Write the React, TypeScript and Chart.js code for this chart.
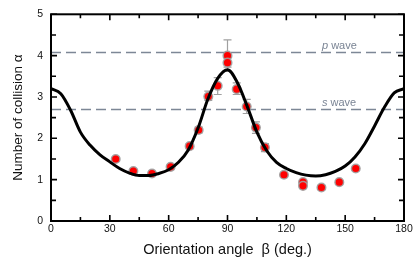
import React, { useEffect, useRef } from "react";
import { Chart, registerables } from "chart.js";

Chart.register(...registerables);

// Measured points
const pointAngles = [33, 42, 51.5, 61, 70.7, 75.3, 80.2, 85, 90, 90, 94.7, 99.8, 104.5, 109.1, 118.8, 128.5, 128.5, 137.9, 147, 155.4];
const pointValues = [1.5, 1.21, 1.15, 1.31, 1.81, 2.2, 3.01, 3.27, 4.0, 3.83, 3.19, 2.77, 2.26, 1.78, 1.12, 0.94, 0.85, 0.81, 0.94, 1.27];
const errLow = [1.45, 1.16, 1.1, 1.26, 1.75, 2.13, 2.92, 3.06, 3.62, 3.72, 3.06, 2.6, 2.12, 1.68, 1.07, 0.89, 0.8, 0.76, 0.9, 1.22];
const errHigh = [1.55, 1.26, 1.2, 1.36, 1.87, 2.27, 3.14, 3.47, 4.38, 3.95, 3.34, 2.94, 2.4, 1.87, 1.17, 0.99, 0.9, 0.86, 0.98, 1.32];

// Fitted curve
const curveAngles = [0, 5, 10, 15, 20, 25, 30, 35, 40, 45, 50, 55, 60, 65, 70, 75, 80, 85, 90, 95, 100, 105, 110, 115, 120, 125, 130, 135, 140, 145, 150, 155, 160, 165, 170, 175, 180];
const curveValues = [3.2, 3.08, 2.68, 2.15, 1.83, 1.6, 1.43, 1.27, 1.16, 1.1, 1.1, 1.15, 1.24, 1.42, 1.72, 2.25, 2.95, 3.45, 3.66, 3.35, 2.78, 2.15, 1.7, 1.42, 1.27, 1.17, 1.11, 1.09, 1.12, 1.2, 1.33, 1.55, 1.87, 2.3, 2.75, 3.1, 3.2];

// Reference levels
const refLevels = [4.1, 2.7];
const refLabelItalic = ["p", "s"];
const refLabelRest = [" wave", " wave"];

// Axis ticks
const xMajorTicks = [0, 30, 60, 90, 120, 150, 180];
const xMinorTicks = [15, 45, 75, 105, 135, 165];
const yMajorTicks = [0, 1, 2, 3, 4, 5];
const yMinorTicks = [0.5, 1.5, 2.5, 3.5, 4.5];

const FONT = "'Liberation Sans', Arial, Helvetica, sans-serif";

const framePlugin = {
  id: "framePlugin",
  beforeDatasetsDraw(chart: any) {
    const { ctx, chartArea: a, scales } = chart;
    const y = scales.y;
    ctx.save();
    ctx.strokeStyle = "#7d8796";
    ctx.lineWidth = 1.5;
    ctx.setLineDash([10, 5]);
    refLevels.forEach((lv, i) => {
      const py = Math.round(y.getPixelForValue(lv)) + 0.5;
      ctx.beginPath();
      ctx.moveTo(a.left, py);
      ctx.lineTo(a.right, py);
      ctx.stroke();
      // label
      ctx.setLineDash([]);
      ctx.fillStyle = "#7a8494";
      ctx.textBaseline = "alphabetic";
      ctx.textAlign = "left";
      const lx = 322;
      const ly = py - 4;
      ctx.font = `italic 11px ${FONT}`;
      ctx.fillText(refLabelItalic[i], lx, ly);
      const w = ctx.measureText(refLabelItalic[i]).width;
      ctx.font = `11px ${FONT}`;
      ctx.fillText(refLabelRest[i], lx + w, ly);
      ctx.setLineDash([10, 5]);
    });
    ctx.restore();
  },
  beforeDatasetDraw(chart: any, args: any) {
    if (args.index !== 1) return;
    const { ctx, scales } = chart;
    ctx.save();
    ctx.strokeStyle = "#a0a0a0";
    ctx.lineWidth = 1.2;
    pointAngles.forEach((ang, i) => {
      const px = scales.x.getPixelForValue(ang);
      const y1 = scales.y.getPixelForValue(errLow[i]);
      const y2 = scales.y.getPixelForValue(errHigh[i]);
      ctx.beginPath();
      ctx.moveTo(px, y1);
      ctx.lineTo(px, y2);
      ctx.moveTo(px - 4, y1);
      ctx.lineTo(px + 4, y1);
      ctx.moveTo(px - 4, y2);
      ctx.lineTo(px + 4, y2);
      ctx.stroke();
    });
    ctx.restore();
  },
  afterDatasetsDraw(chart: any) {
    const { ctx, chartArea: a, scales } = chart;
    const x = scales.x;
    const y = scales.y;
    ctx.save();
    ctx.strokeStyle = "#000";
    ctx.lineWidth = 1.6;
    const drawX = (v: number, len: number) => {
      const px = x.getPixelForValue(v);
      ctx.beginPath();
      ctx.moveTo(px, a.bottom);
      ctx.lineTo(px, a.bottom - len);
      ctx.moveTo(px, a.top);
      ctx.lineTo(px, a.top + len);
      ctx.stroke();
    };
    const drawY = (v: number, len: number) => {
      const py = y.getPixelForValue(v);
      ctx.beginPath();
      ctx.moveTo(a.left, py);
      ctx.lineTo(a.left + len, py);
      ctx.moveTo(a.right, py);
      ctx.lineTo(a.right - len, py);
      ctx.stroke();
    };
    xMajorTicks.forEach((v) => drawX(v, 6));
    xMinorTicks.forEach((v) => drawX(v, 4));
    yMajorTicks.forEach((v) => drawY(v, 6));
    yMinorTicks.forEach((v) => drawY(v, 5));
    ctx.lineWidth = 2;
    ctx.strokeRect(a.left, a.top, a.right - a.left, a.bottom - a.top);
    ctx.restore();
  },
};

export default function App() {
  const ref = useRef<HTMLCanvasElement | null>(null);
  useEffect(() => {
    if (!ref.current) return;
    const chart = new Chart(ref.current, {
      type: "scatter",
      data: {
        datasets: [
          {
            type: "line",
            data: curveAngles.map((a, i) => ({ x: a, y: curveValues[i] })),
            borderColor: "#000",
            borderWidth: 3,
            pointRadius: 0,
            cubicInterpolationMode: "monotone",
            fill: false,
          } as any,
          {
            type: "scatter",
            data: pointAngles.map((a, i) => ({ x: a, y: pointValues[i] })),
            backgroundColor: "#ff0000",
            borderColor: "rgba(160,160,160,0.9)",
            borderWidth: 1.5,
            pointRadius: 4.3,
          },
        ],
      },
      options: {
        animation: false,
        responsive: false,
        devicePixelRatio: 1,
        layout: { padding: { top: 14, right: 11, left: 0, bottom: 0 } },
        plugins: { legend: { display: false }, tooltip: { enabled: false } },
        scales: {
          x: {
            type: "linear",
            min: 0,
            max: 180,
            afterFit: (s: any) => {
              s.height = 50;
            },
            afterBuildTicks: (s: any) => {
              s.ticks = xMajorTicks.map((v) => ({ value: v }));
            },
            ticks: {
              padding: 2,
              color: "#111",
              font: { family: FONT, size: 10.5 },
              maxRotation: 0,
            },
            grid: { display: false, drawTicks: false },
            border: { display: false },
            title: {
              display: true,
              text: "Orientation angle  β (deg.)",
              color: "#111",
              font: { family: FONT, size: 14.5 },
              padding: { top: 0, bottom: 12 },
            },
          },
          y: {
            type: "linear",
            min: 0,
            max: 5,
            afterFit: (s: any) => {
              s.width = 51;
            },
            afterBuildTicks: (s: any) => {
              s.ticks = yMajorTicks.map((v) => ({ value: v }));
            },
            ticks: {
              padding: 8,
              color: "#111",
              font: { family: FONT, size: 10.5 },
            },
            grid: { display: false, drawTicks: false },
            border: { display: false },
            title: {
              display: true,
              text: "Number of collision α",
              color: "#111",
              font: { family: FONT, size: 13.5 },
              padding: { top: 10, bottom: 0 },
            },
          },
        },
      },
      plugins: [framePlugin],
    } as any);
    return () => chart.destroy();
  }, []);
  return (
    <div style={{ position: "absolute", left: 0, top: 0, width: 415, height: 271, background: "#fff" }}>
      <canvas ref={ref} width={415} height={271} style={{ display: "block" }} />
    </div>
  );
}
